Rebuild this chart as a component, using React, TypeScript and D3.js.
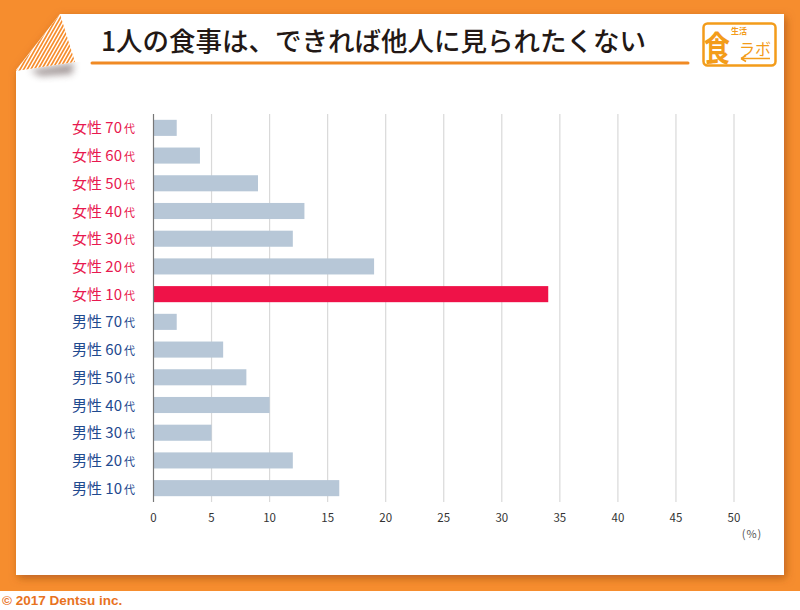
import React from 'react';
import * as d3 from 'd3';

// 上から順に表示
const categories = [
  '女性 70', '女性 60', '女性 50', '女性 40', '女性 30', '女性 20', '女性 10',
  '男性 70', '男性 60', '男性 50', '男性 40', '男性 30', '男性 20', '男性 10',
];
const values = [2, 4, 9, 13, 12, 19, 34, 2, 6, 8, 10, 5, 12, 16];
const highlight = '女性 10';
const xTicks = [0, 5, 10, 15, 20, 25, 30, 35, 40, 45, 50];

const title = '1人の食事は、できれば他人に見られたくない';

const W = 800;
const H = 610;
const margin = { top: 114, right: 66, bottom: 108, left: 153.5 };

const JP = '"Noto Sans CJK JP", "Noto Sans", sans-serif';
const CARD = '60,14 784,14 784,575 16,575 16,70';

const App = () => {
  const x = d3.scaleLinear()
    .domain([0, 50])
    .range([margin.left, W - margin.right]);

  const y = d3.scaleBand()
    .domain(categories)
    .range([margin.top, H - margin.bottom])
    .paddingInner(0.42)
    .paddingOuter(0.21);

  const stripes = d3.range(-80, 90, 3.6);

  return (
    <svg width={W} height={H} style={{ display: 'block', position: 'absolute', left: 0, top: 0 }}>
      <defs>
        <filter id="cardShadow" x="-5%" y="-5%" width="110%" height="112%">
          <feDropShadow dx="2" dy="3" stdDeviation="4" floodColor="#8a3c0c" floodOpacity="0.55" />
        </filter>
        <filter id="blur4" x="-50%" y="-50%" width="200%" height="200%">
          <feGaussianBlur stdDeviation="3.5" />
        </filter>
        <clipPath id="foldClip">
          <polygon points="60,14 16,71 75,62" />
        </clipPath>
        <clipPath id="underFold">
          <polygon points="16,71 75,62 100,62 100,100 16,100" />
        </clipPath>
      </defs>

      {/* 背景 */}
      <rect x={0} y={0} width={W} height={H} fill="#fff" />
      <rect x={0} y={0} width={W} height={591} fill="#f68d2e" />

      {/* カード */}
      <polygon points={CARD} fill="#fff" filter="url(#cardShadow)" />

      {/* 折り返しの影 */}
      <g clipPath="url(#underFold)">
        <polygon points="30,70 74,63 72,74 40,76" fill="#6a5a5a" opacity={0.6} filter="url(#blur4)" />
      </g>
      {/* 折り返し */}
      <g clipPath="url(#foldClip)">
        <polygon points="60,14 16,71 75,62" fill="#fff" />
        {stripes.map((s) => (
          <line
            key={s}
            x1={s + 40}
            y1={80}
            x2={s + 80}
            y2={10}
            stroke="#f68d2e"
            strokeWidth={1.7}
          />
        ))}
      </g>

      {/* タイトル */}
      <text
        x={101}
        y={51}
        fontFamily={JP}
        fontSize={26.5}
        fontWeight={500}
        fill="#231815"
      >
        {title}
      </text>
      <line x1={92} y1={63} x2={688} y2={63} stroke="#f08a24" strokeWidth={3} strokeLinecap="round" />

      {/* ロゴ */}
      <g fill="#f39c1a" fontFamily={JP}>
        <rect x={703.5} y={23.5} width={72} height={42} rx={4} fill="none" stroke="#f39c1a" strokeWidth={2.5} />
        <text transform="translate(704,61) scale(1,1.3)" fontSize={26} fontWeight={700}>食</text>
        <text x={731} y={33.5} fontSize={8} fontWeight={700}>生活</text>
        <text x={739} y={55} fontSize={16} fontWeight={400}>ラボ</text>
        <line x1={741} y1={58.5} x2={770} y2={58.5} stroke="#f39c1a" strokeWidth={1.5} />
        <path d="M741,58.5 L746,55.5 M741,58.5 L746,61.5" stroke="#f39c1a" strokeWidth={1.5} fill="none" />
      </g>

      {/* グリッド */}
      {xTicks.slice(1).map((t) => (
        <line
          key={t}
          x1={x(t)}
          x2={x(t)}
          y1={margin.top}
          y2={H - margin.bottom}
          stroke="#d9d9d9"
          strokeWidth={1.2}
        />
      ))}

      {/* バー */}
      {categories.map((c, i) => (
        <rect
          key={c}
          x={x(0)}
          y={y(c)}
          width={x(values[i]) - x(0)}
          height={y.bandwidth()}
          fill={c === highlight ? '#ef1248' : '#b7c7d7'}
        />
      ))}

      {/* 軸線 */}
      <line x1={x(0)} x2={x(0)} y1={margin.top} y2={H - margin.bottom} stroke="#777" strokeWidth={1.2} />

      {/* カテゴリラベル */}
      {categories.map((c) => {
        const female = c.startsWith('女性');
        return (
          <text
            key={c}
            x={135}
            y={(y(c) ?? 0) + y.bandwidth() / 2 + 5.5}
            textAnchor="end"
            fontFamily={JP}
            fill={female ? '#e8194f' : '#1f4a8f'}
          >
            <tspan fontSize={15}>{c}</tspan>
            <tspan fontSize={11} dx={2}>代</tspan>
          </text>
        );
      })}

      {/* 目盛り */}
      {xTicks.map((t) => (
        <text
          key={t}
          x={x(t)}
          y={522}
          textAnchor="middle"
          fontFamily={JP}
          fontSize={11.5}
          fill="#333"
        >
          {t}
        </text>
      ))}
      <text x={752} y={538} textAnchor="middle" fontFamily={JP} fontSize={11} letterSpacing={1} fill="#555">
        (%)
      </text>

      {/* コピーライト */}
      <text
        x={2}
        y={605}
        fontFamily='"Liberation Sans", Arial, sans-serif'
        fontSize={13.5}
        fontWeight={700}
        fill="#e8731f"
      >
        © 2017 Dentsu inc.
      </text>
    </svg>
  );
};

export default App;
